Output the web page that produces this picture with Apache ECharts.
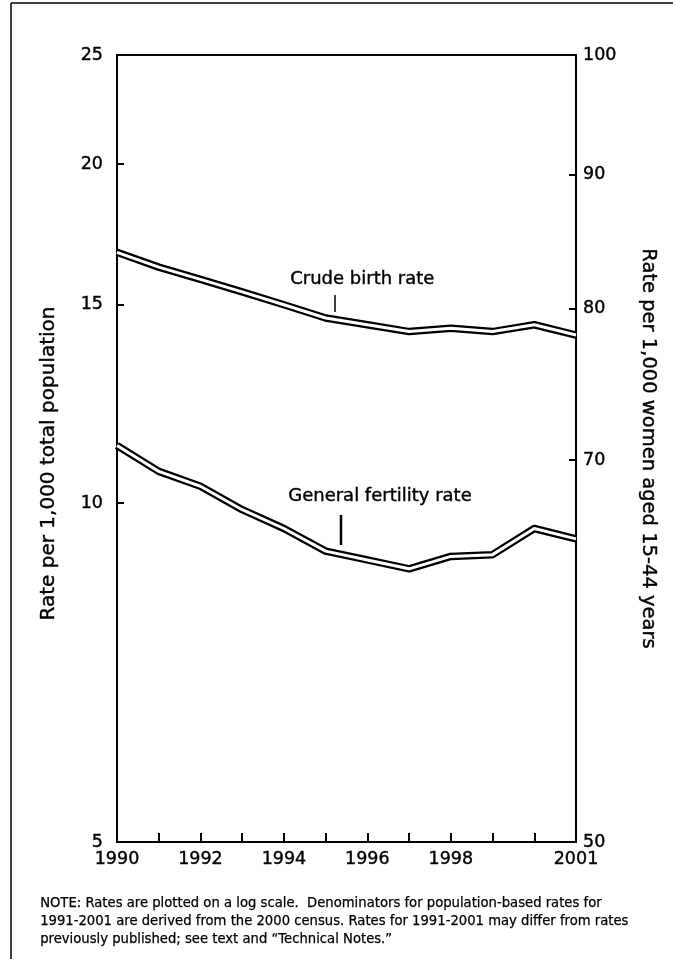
<!DOCTYPE html>
<html><head><meta charset="utf-8">
<script src="https://cdn.jsdelivr.net/npm/echarts@6/dist/echarts.min.js"></script>
<style>html,body{margin:0;padding:0;background:#fff}#c{width:673px;height:959px}</style>
</head><body><div id="c"></div>
<script>
const years = [1990,1991,1992,1993,1994,1995,1996,1997,1998,1999,2000,2001];
const crudeBirthRate = [16.7,16.2,15.8,15.4,15.0,14.6,14.4,14.2,14.3,14.2,14.4,14.1];
const generalFertilityRate = [70.9,69.3,68.4,67.0,65.9,64.6,64.1,63.6,64.3,64.4,65.9,65.3];
const leftTicks = [5,10,15,20,25];
const rightTicks = [50,70,80,90,100];
const yearLabels = [1990,1992,1994,1996,1998,2001];
const leftTitle = 'Rate per 1,000 total population';
const rightTitle = 'Rate per 1,000 women aged 15-44 years';
const seriesNames = ['Crude birth rate','General fertility rate'];
const noteLines = [
  'NOTE: Rates are plotted on a log scale.  Denominators for population-based rates for',
  '1991-2001 are derived from the 2000 census. Rates for 1991-2001 may differ from rates',
  'previously published; see text and \u201cTechnical Notes.\u201d'
];

const FONT = 'DejaVu Sans';
const INK = {textBorderColor:'#000', textBorderWidth:0.4};
const chart = echarts.init(document.getElementById('c'), null, {renderer:'canvas'});

function doubleLine(name, values, yIdx) {
  const data = years.map((y,i)=>[y, values[i]]);
  return [
    {name:name, type:'line', yAxisIndex:yIdx, data:data, symbol:'none', silent:true, z:3,
     lineStyle:{color:'#000', width:7.5, join:'round'}},
    {name:name+' (inner)', type:'line', yAxisIndex:yIdx, data:data, symbol:'none', silent:true, z:4,
     lineStyle:{color:'#fff', width:3, join:'round'}}
  ];
}

const option = {
  animation:false,
  backgroundColor:'#fff',
  textStyle:{fontFamily:FONT, color:'#000'},
  grid:{left:117, right:97, top:55, bottom:117, show:true, borderColor:'#000', borderWidth:2, backgroundColor:'transparent'},
  xAxis:{
    type:'value', min:1990, max:2001, interval:1,
    splitLine:{show:false},
    axisLine:{show:true, lineStyle:{color:'#000', width:2}},
    axisTick:{show:true, inside:true, length:9, lineStyle:{color:'#000', width:2}},
    axisLabel:Object.assign({customValues:yearLabels, formatter:v=>String(v), color:'#000', fontSize:17.5, fontFamily:FONT, margin:8}, INK)
  },
  yAxis:[
    {type:'log', logBase:10, min:5, max:25, position:'left',
     name:leftTitle, nameLocation:'middle', nameRotate:90, nameGap:58,
     nameTextStyle:Object.assign({fontSize:20, fontFamily:FONT, color:'#000', padding:[0,30,0,0]}, INK),
     splitLine:{show:false},
     axisLine:{show:true, lineStyle:{color:'#000', width:2}},
     axisTick:{show:true, inside:true, length:7, customValues:leftTicks, lineStyle:{color:'#000', width:2}},
     axisLabel:Object.assign({customValues:leftTicks, formatter:v=>String(Math.round(v)), color:'#000', fontSize:17.5, fontFamily:FONT, margin:14}, INK)
    },
    {type:'log', logBase:10, min:50, max:100, position:'right',
     name:rightTitle, nameLocation:'middle', nameRotate:-90, nameGap:62,
     nameTextStyle:Object.assign({fontSize:19.5, fontFamily:FONT, color:'#000'}, INK),
     splitLine:{show:false},
     axisLine:{show:true, lineStyle:{color:'#000', width:2}},
     axisTick:{show:true, inside:true, length:7, customValues:rightTicks, lineStyle:{color:'#000', width:2}},
     axisLabel:Object.assign({customValues:rightTicks, formatter:v=>String(Math.round(v)), color:'#000', fontSize:17.5, fontFamily:FONT, margin:7}, INK)
    }
  ],
  series:[].concat(doubleLine(seriesNames[0], crudeBirthRate, 0), doubleLine(seriesNames[1], generalFertilityRate, 1)),
  graphic:[
    {type:'line', shape:{x1:11, y1:3, x2:11, y2:959}, style:{stroke:'#000', lineWidth:1.5}},
    {type:'line', shape:{x1:11, y1:3, x2:673, y2:3}, style:{stroke:'#000', lineWidth:1.5}},
    {type:'text', left:290, top:270, style:{text:seriesNames[0], font:'18px "DejaVu Sans"', fill:'#000', stroke:'#000', lineWidth:0.4}},
    {type:'line', shape:{x1:335, y1:295, x2:335, y2:312}, style:{stroke:'#000', lineWidth:1.5}},
    {type:'text', left:288, top:487, style:{text:seriesNames[1], font:'18px "DejaVu Sans"', fill:'#000', stroke:'#000', lineWidth:0.4}},
    {type:'line', shape:{x1:341, y1:515, x2:341, y2:545}, style:{stroke:'#000', lineWidth:2.5}},
    {type:'text', left:40, top:895, style:{text:noteLines.join('\n'), font:'13.2px "DejaVu Sans"', lineHeight:18, fill:'#000', stroke:'#000', lineWidth:0.25}}
  ]
};
chart.setOption(option);
</script>
</body></html>
